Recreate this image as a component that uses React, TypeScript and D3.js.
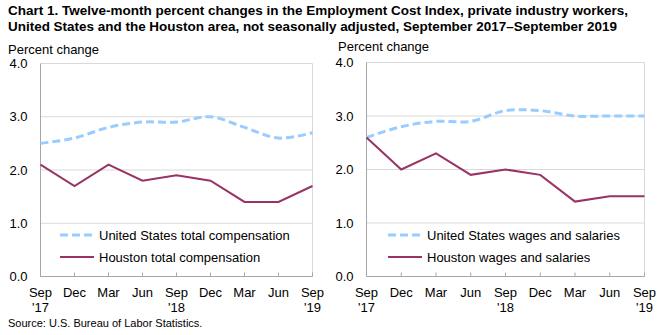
import React from "react";
import * as d3 from "d3";

const categories = ["Sep '17", "Dec", "Mar", "Jun", "Sep '18", "Dec", "Mar", "Jun", "Sep '19"];
const monthLabels = ["Sep", "Dec", "Mar", "Jun", "Sep", "Dec", "Mar", "Jun", "Sep"];
const yearLabels = ["'17", "", "", "", "'18", "", "", "", "'19"];
const yTicks = [0, 1, 2, 3, 4];

const usTotalComp = [2.5, 2.6, 2.8, 2.9, 2.9, 3.0, 2.8, 2.6, 2.7];
const houstonTotalComp = [2.1, 1.7, 2.1, 1.8, 1.9, 1.8, 1.4, 1.4, 1.7];
const usWages = [2.6, 2.8, 2.9, 2.9, 3.1, 3.1, 3.0, 3.0, 3.0];
const houstonWages = [2.6, 2.0, 2.3, 1.9, 2.0, 1.9, 1.4, 1.5, 1.5];

const titleLines = [
  "Chart 1. Twelve-month percent changes in the Employment Cost  Index, private industry  workers,",
  "United  States and the Houston  area, not seasonally  adjusted,  September 2017\u2013September 2019",
];

const US_COLOR = "#99ccff";
const HOU_COLOR = "#993366";
const FONT = "Liberation Sans, Arial, sans-serif";

type PanelProps = {
  x0: number;
  x1: number;
  yTop: number;
  yBottom: number;
  labelX: number;
  labelY: number;
  us: number[];
  hou: number[];
  usName: string;
  houName: string;
  legX: number;
};

function Panel(p: PanelProps) {
  const idx = categories.map((_, i) => String(i));
  const x = d3.scalePoint<string>().domain(idx).range([p.x0, p.x1]);
  const y = d3.scaleLinear().domain([0, 4]).range([p.yBottom, p.yTop]);
  const lineSmooth = d3
    .line<number>()
    .x((_, i) => x(String(i)) as number)
    .y((d) => y(d))
    .curve(d3.curveCatmullRom.alpha(0.5));
  const lineStraight = d3
    .line<number>()
    .x((_, i) => x(String(i)) as number)
    .y((d) => y(d));
  const legY1 = y(0) - 41.5;
  const legY2 = y(0) - 19.5;
  return (
    <g>
      <text x={p.labelX} y={p.labelY} fontSize={13} fill="#000" fontFamily={FONT}>
        Percent change
      </text>
      {yTicks.map((t) =>
        t > 0 ? (
          <line key={"g" + t} x1={p.x0} x2={p.x1} y1={y(t)} y2={y(t)} stroke="#d9d9d9" strokeWidth={1} />
        ) : null
      )}
      <line x1={p.x1} x2={p.x1} y1={y(4)} y2={y(0)} stroke="#d9d9d9" strokeWidth={1} />
      <line x1={p.x0} x2={p.x0} y1={y(4)} y2={y(0)} stroke="#a6a6a6" strokeWidth={1} />
      <line x1={p.x0} x2={p.x1} y1={y(0)} y2={y(0)} stroke="#a6a6a6" strokeWidth={1} />
      {idx.map((k) => (
        <line key={"t" + k} x1={x(k)} x2={x(k)} y1={y(0)} y2={y(0) - 4} stroke="#a6a6a6" strokeWidth={1} />
      ))}
      {yTicks.map((t) => (
        <text
          key={"yl" + t}
          x={p.x0 - 13}
          y={y(t)}
          dy="0.35em"
          textAnchor="end"
          fontSize={13}
          fill="#000"
          fontFamily={FONT}
        >
          {t.toFixed(1)}
        </text>
      ))}
      {idx.map((k, i) => (
        <g key={"xl" + k}>
          <text x={x(k)} y={y(0) + 20} textAnchor="middle" fontSize={13} fill="#000" fontFamily={FONT}>
            {monthLabels[i]}
          </text>
          {yearLabels[i] ? (
            <text x={x(k)} y={y(0) + 35} textAnchor="middle" fontSize={13} fill="#000" fontFamily={FONT}>
              {yearLabels[i]}
            </text>
          ) : null}
        </g>
      ))}
      <path d={lineSmooth(p.us) || ""} fill="none" stroke={US_COLOR} strokeWidth={3} strokeDasharray="8,4" />
      <path d={lineStraight(p.hou) || ""} fill="none" stroke={HOU_COLOR} strokeWidth={2} />
      <line x1={p.legX} x2={p.legX + 34} y1={legY1} y2={legY1} stroke={US_COLOR} strokeWidth={3} strokeDasharray="8,4" />
      <text x={p.legX + 39} y={legY1} dy="0.35em" fontSize={13} fill="#000" fontFamily={FONT}>
        {p.usName}
      </text>
      <line x1={p.legX} x2={p.legX + 34} y1={legY2} y2={legY2} stroke={HOU_COLOR} strokeWidth={2} />
      <text x={p.legX + 39} y={legY2} dy="0.35em" fontSize={13} fill="#000" fontFamily={FONT}>
        {p.houName}
      </text>
    </g>
  );
}

export default function App() {
  return (
    <svg
      width={665}
      height={335}
      style={{ position: "absolute", left: 0, top: 0, background: "#fff" }}
    >
      <rect x={0} y={0} width={665} height={335} fill="#fff" />
      {titleLines.map((t, i) => (
        <text
          key={i}
          x={8}
          y={15 + i * 16}
          fontSize={13}
          fontWeight="bold"
          fill="#000"
          fontFamily={FONT}
          textLength={i === 0 ? 620 : 609}
          lengthAdjust="spacingAndGlyphs"
        >
          {t}
        </text>
      ))}
      <Panel
        x0={40.5}
        x1={312.5}
        yTop={63.5}
        yBottom={276.5}
        labelX={8}
        labelY={54}
        us={usTotalComp}
        hou={houstonTotalComp}
        usName="United States total compensation"
        houName="Houston total compensation"
        legX={60}
      />
      <Panel
        x0={366.5}
        x1={644.5}
        yTop={62.5}
        yBottom={276.5}
        labelX={338}
        labelY={51}
        us={usWages}
        hou={houstonWages}
        usName="United States wages and salaries"
        houName="Houston wages and salaries"
        legX={388}
      />
      <text x={8} y={327} fontSize={11} fill="#000" fontFamily={FONT}>
        Source: U.S. Bureau of Labor Statistics.
      </text>
    </svg>
  );
}
